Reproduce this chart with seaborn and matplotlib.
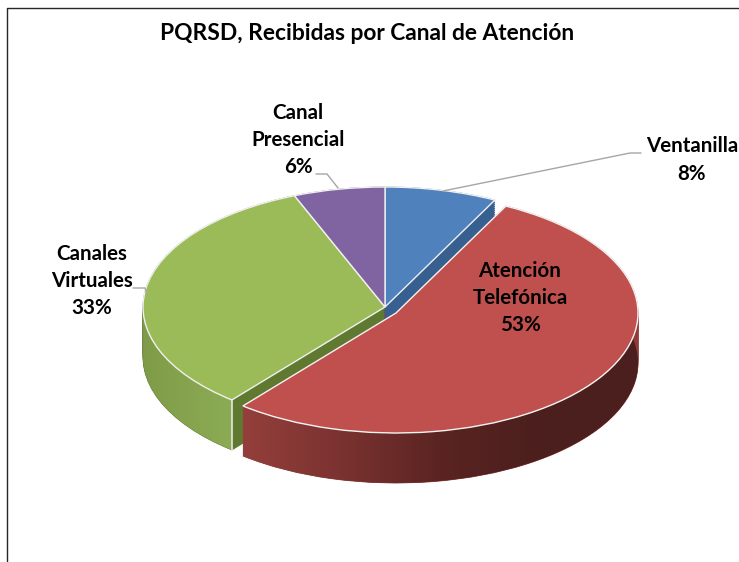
import numpy as np
import matplotlib
matplotlib.use('Agg')
import matplotlib.pyplot as plt
import seaborn as sns
from matplotlib.lines import Line2D
from matplotlib.patches import PathPatch
from matplotlib.path import Path

categories = ['Ventanilla', 'Atención\nTelefónica', 'Canales\nVirtuales', 'Canal\nPresencial']
values = [7.5, 53.4, 33.0, 6.1]
top_colors = ['#4f81bd', '#c0504d', '#9bbb59', '#8064a2']
cut_colors = ['#375f8f', '#8f3c39', '#5f7a30', '#5d4878']
title = 'PQRSD, Recibidas por Canal de Atención'

sns.set_theme(style='white')
plt.rcParams['font.family'] = ['Lato', 'DejaVu Sans']

W, H = 739, 562
CX, CY = 385, 307      # centre of the pie top, pixels
RX, RY = 242, 120      # pie radii, pixels
DEPTH = 50 / RY
RED_SHIFT = (11 / RX, -6 / RY)

fig = plt.figure(figsize=(W / 100, H / 100), dpi=100)
ax = fig.add_axes([0, 0, 1, 1])


def px(x, y):
    return (x - CX) / RX, (CY - y) / RY


def pie_layer(keep, colors, dy=0.0, shift=(0, 0), zorder=1, edge=None, lw=0.6):
    wedges = ax.pie(values, colors=colors, startangle=90, counterclock=False,
                    center=(shift[0], shift[1] + dy))[0]
    for i, w in enumerate(wedges):
        w.set_visible(i in keep)
        w.set_zorder(zorder)
        w.set_edgecolor(edge if edge else colors[i])
        w.set_linewidth(lw)
    return wedges


def outer_wall(a1, a2, stops, shift=(0, 0), zorder=2):
    # side of the disc between two clockwise angles, filled with a left-right gradient
    a = np.radians(np.linspace(a1, a2, 120))
    x = np.sin(a) + shift[0]
    y = np.cos(a) + shift[1]
    verts = np.r_[np.c_[x, y], np.c_[x, y - DEPTH][::-1], [[x[0], y[0]]]]
    patch = PathPatch(Path(verts), transform=ax.transData, fc='none', ec='none')
    grad = np.array(sns.blend_palette(stops, n_colors=256))[None, :, :]
    im = ax.imshow(grad, extent=(x.min(), x.max(), y.min() - DEPTH, y.max()),
                   aspect='auto', zorder=zorder, interpolation='bilinear')
    im.set_clip_path(patch)


ends = np.cumsum(values) * 3.6

# depth of the discs, piled up pies
for dy in np.linspace(-DEPTH, 0, 26):
    pie_layer([0, 2, 3], cut_colors, dy=dy, zorder=1)
    pie_layer([1], cut_colors, dy=dy, shift=RED_SHIFT, zorder=3)

outer_wall(ends[1], 270, ['#7f9b49', '#86a44e', '#8cab55'], zorder=2)
outer_wall(ends[0] + 40, ends[1], ['#943f3b', '#7a3230', '#5a2422', '#4b1f1d', '#4b1f1d'],
           shift=RED_SHIFT, zorder=4)

# white seam where the green side meets its cut face
seam = np.radians(ends[1])
ax.plot([np.sin(seam)] * 2, [np.cos(seam), np.cos(seam) - DEPTH], color='#e6e6e6', lw=1.2, zorder=2.5)

pie_layer([0, 2, 3], top_colors, zorder=5, edge='#f0f0f0', lw=1.0)
pie_layer([1], top_colors, shift=RED_SHIFT, zorder=6, edge='#f4f4f4', lw=1.0)

# leader lines
leaders = [
    [(443, 191), (630, 153), (641, 153)],
    [(316, 174), (327, 174), (338, 188)],
    [(133, 288), (145, 288), (147, 294)],
]
for pts in leaders:
    xs, ys = zip(*[px(*p) for p in pts])
    ax.plot(xs, ys, color='#a6a6a6', lw=1, zorder=7)

label_pos = [(692, 160), (520, 298), (92, 281), (298, 140)]
for cat, val, (lx, ly) in zip(categories, values, label_pos):
    tx, ty = px(lx, ly)
    ax.text(tx, ty, f'{cat}\n{val:.0f}%', ha='center', va='center', fontsize=14.8,
            fontweight='bold', color='black', linespacing=1.44, zorder=8)

tx, ty = px(367, 33)
ax.text(tx, ty, title, ha='center', va='center', fontsize=16.4, fontweight='bold', color='black', zorder=8)

ax.set_xlim((0 - CX) / RX, (W - CX) / RX)
ax.set_ylim((CY - H) / RY, CY / RY)
ax.set_aspect('auto')
ax.axis('off')

# page frame, left and top only
fig.add_artist(Line2D([6.5 / W, 6.5 / W, 1], [0, 1 - 8 / H, 1 - 8 / H], color='#262626', lw=1))

fig.savefig('out.png', dpi=100)
